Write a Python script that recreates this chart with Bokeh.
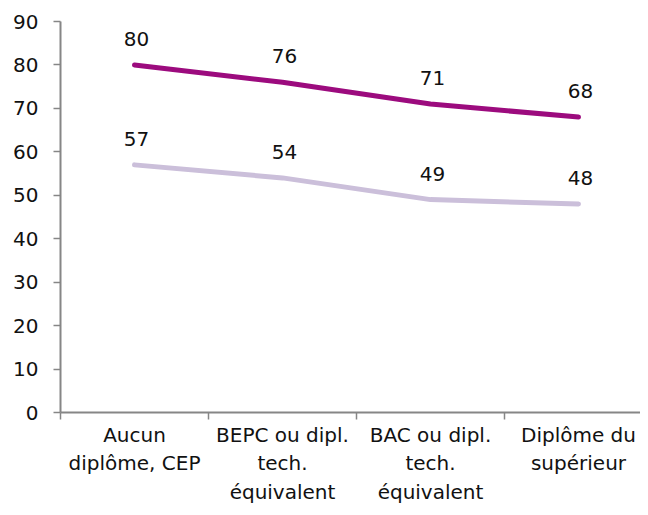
from bokeh.plotting import figure
from bokeh.models import ColumnDataSource, FixedTicker, Range1d
from bokeh.embed import file_html
from bokeh.resources import INLINE
from bokeh.core.properties import value

categories = ["Aucun\ndiplôme, CEP", "BEPC ou dipl.\ntech.\néquivalent",
              "BAC ou dipl.\ntech.\néquivalent", "Diplôme du\nsupérieur"]
series_a = [80, 76, 71, 68]
series_b = [57, 54, 49, 48]
y_ticks = [0, 10, 20, 30, 40, 50, 60, 70, 80, 90]

FONT = "DejaVu Sans"
n = len(categories)
xs = [i + 0.5 for i in range(n)]

p = figure(width=640, height=507, output_backend="svg", toolbar_location=None,
           x_range=Range1d(0, n * 580 / 592), y_range=Range1d(0, 90),
           min_border_left=60, min_border_right=0, min_border_top=21, min_border_bottom=40)
p.outline_line_color = None
p.grid.grid_line_color = None
p.background_fill_color = "white"

src_a = ColumnDataSource(dict(x=xs, y=series_a, t=[str(v) for v in series_a]))
src_b = ColumnDataSource(dict(x=xs, y=series_b, t=[str(v) for v in series_b]))

p.line("x", "y", source=src_b, line_color="#CBBFDA", line_width=5, line_cap="round", line_join="round")
p.line("x", "y", source=src_a, line_color="#9C0B7E", line_width=5, line_cap="round", line_join="round")

for s in (src_a, src_b):
    p.text("x", "y", text="t", source=s, text_align="center", text_baseline="alphabetic",
           x_offset=2, y_offset=-26, text_font=value(FONT), text_font_size="20px", text_color="#111111")

# x axis: tick marks between categories, names centred on each category
p.xaxis.ticker = FixedTicker(ticks=xs, minor_ticks=list(range(n + 1)))
p.xaxis.major_label_overrides = {x: c for x, c in zip(xs, categories)}
p.xaxis.major_tick_line_color = None
p.xaxis.major_tick_out = 0
p.xaxis.major_tick_in = 0
p.xaxis.minor_tick_line_color = "#868686"
p.xaxis.minor_tick_line_width = 1.5
p.xaxis.minor_tick_in = 0
p.xaxis.minor_tick_out = 7
p.xaxis.axis_line_color = "#868686"
p.xaxis.axis_line_width = 2
p.xaxis.major_label_text_font = FONT
p.xaxis.major_label_text_font_size = "20px"
p.xaxis.major_label_text_color = "#111111"
p.xaxis.major_label_standoff = 3

# y axis
p.yaxis.ticker = FixedTicker(ticks=y_ticks, minor_ticks=[])
p.yaxis.axis_line_color = "#868686"
p.yaxis.axis_line_width = 2
p.yaxis.major_tick_line_color = "#868686"
p.yaxis.major_tick_line_width = 1.5
p.yaxis.major_tick_in = 0
p.yaxis.major_tick_out = 7
p.yaxis.minor_tick_line_color = None
p.yaxis.major_label_text_font = FONT
p.yaxis.major_label_text_font_size = "20px"
p.yaxis.major_label_text_color = "#111111"
p.yaxis.major_label_standoff = 15

open("out.html", "w").write(file_html(p, INLINE))
